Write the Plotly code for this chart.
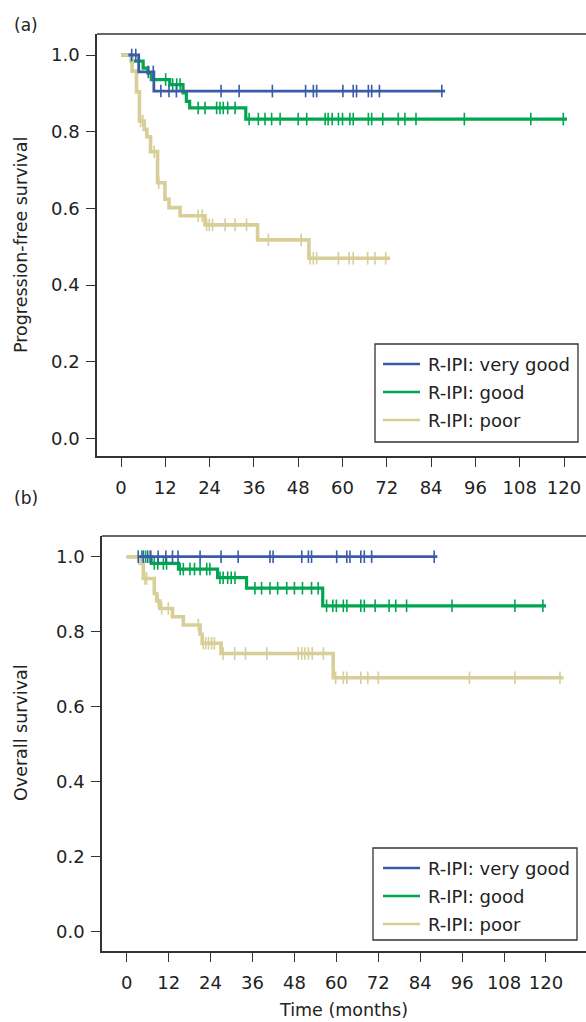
import numpy as np
import plotly.graph_objects as go

W, H = 586, 1022
BLUE = "#3A5BA8"
GREEN = "#00A650"
TAN = "#D8CE98"
AX = "#333333"
TXT = "#222222"
FONT = "DejaVu Sans"

x_ticks = [0, 12, 24, 36, 48, 60, 72, 84, 96, 108, 120]
y_ticks = [0.0, 0.2, 0.4, 0.6, 0.8, 1.0]
group_labels = ["R-IPI: very good", "R-IPI: good", "R-IPI: poor"]

# ---------------- Panel (a): progression-free survival ----------------
a_vg_start = 2.0
a_vg_times = [4.8, 8.9]
a_vg_surv = [0.956, 0.906]
a_vg_end = 87.8
a_vg_cens = [2.9, 4.0, 7.4, 8.75, 10.8, 13.0, 15.0, 27.1, 32.0, 41.0, 50.0, 52.1,
             53.0, 60.1, 62.9, 63.8, 67.0, 67.9, 70.0, 86.9]

a_g_start = 0.0
a_g_times = [2.8, 6.0, 7.3, 8.2, 13.2, 16.8, 17.7, 18.6, 33.8]
a_g_surv = [0.984, 0.966, 0.953, 0.936, 0.923, 0.901, 0.879, 0.862, 0.833]
a_g_end = 120.8
a_g_cens = [12.1, 14.0, 15.1, 16.0, 20.9, 22.75, 25.9, 26.8, 27.7, 28.9, 30.9,
            34.7, 37.2, 39.0, 40.8, 43.1, 48.0, 50.3, 55.3, 56.1, 57.2, 58.9, 60.0,
            62.0, 62.9, 67.0, 67.9, 70.9, 75.1, 76.9, 79.9, 93.0, 111.0, 119.8]

a_p_start = 0.0
a_p_times = [3.0, 4.2, 5.0, 6.3, 7.0, 8.0, 9.9, 11.9, 13.0, 16.0, 22.75, 37.0, 50.9]
a_p_surv = [0.958, 0.904, 0.828, 0.806, 0.787, 0.748, 0.667, 0.624, 0.602, 0.581,
            0.557, 0.518, 0.470]
a_p_end = 72.9
a_p_cens = [5.3, 5.9, 9.0, 10.2, 20.9, 22.0, 23.2, 23.9, 24.8, 28.2, 30.9, 34.0,
            39.9, 48.8, 51.2, 52.1, 53.0, 58.9, 61.8, 62.9, 66.8, 68.8, 71.7]

# ---------------- Panel (b): overall survival ----------------
b_vg_start = 3.3
b_vg_times = []
b_vg_surv = []
b_vg_end = 88.9
b_vg_cens = [3.3, 4.75, 6.0, 6.9, 9.0, 11.2, 13.1, 14.7, 21.0, 27.0, 31.9, 41.0,
             41.9, 50.1, 52.0, 52.9, 60.1, 63.0, 63.9, 67.0, 68.0, 70.1, 88.0]

b_g_start = 0.0
b_g_times = [7.0, 14.8, 26.0, 34.3, 56.1]
b_g_surv = [0.982, 0.967, 0.944, 0.916, 0.869]
b_g_end = 120.0
b_g_cens = [4.3, 5.4, 6.7, 7.9, 8.9, 10.5, 11.4, 15.3, 16.2, 18.1, 19.4, 21.0,
            22.9, 23.8, 26.7, 27.6, 28.9, 29.9, 31.0, 36.7, 38.6, 41.0, 43.2, 45.8,
            48.0, 50.3, 52.9, 54.8, 57.2, 59.0, 60.0, 62.0, 63.0, 67.0, 68.0, 71.1,
            75.1, 77.0, 80.1, 93.1, 111.1, 119.1]

b_p_start = 0.0
b_p_times = [3.8, 4.75, 7.9, 8.6, 9.5, 13.1, 16.2, 21.0, 21.6, 27.0, 59.1]
b_p_surv = [0.982, 0.942, 0.902, 0.882, 0.862, 0.840, 0.818, 0.793, 0.769, 0.742,
            0.677]
b_p_end = 125.0
b_p_cens = [5.2, 5.7, 9.0, 10.0, 11.9, 20.5, 21.9, 22.6, 23.4, 24.3, 25.1, 27.6,
            30.9, 34.0, 40.1, 49.1, 50.1, 51.0, 52.0, 53.1, 56.3, 59.8, 62.0, 63.0,
            67.0, 69.0, 72.0, 98.1, 111.1, 124.0]


def km_step(start, times, surv, end):
    x = [start] + list(times) + [end]
    y = [1.0] + list(surv) + [surv[-1] if surv else 1.0]
    return x, y


def km_at(times, surv, t_list):
    t_arr = np.asarray(times, dtype=float)
    s_arr = np.asarray([1.0] + list(surv), dtype=float)
    idx = np.searchsorted(t_arr, np.asarray(t_list, dtype=float), side="right")
    return s_arr[idx].tolist()


def px_x(p):
    return p / W


def px_y(p):
    return 1 - p / H


fig = go.Figure()

panels = [
    dict(xa="x", ya="y", curves=[
        (a_g_start, a_g_times, a_g_surv, a_g_end, a_g_cens, GREEN, 3.2),
        (a_p_start, a_p_times, a_p_surv, a_p_end, a_p_cens, TAN, 3.6),
        (a_vg_start, a_vg_times, a_vg_surv, a_vg_end, a_vg_cens, BLUE, 2.8),
    ]),
    dict(xa="x2", ya="y2", curves=[
        (b_g_start, b_g_times, b_g_surv, b_g_end, b_g_cens, GREEN, 3.2),
        (b_p_start, b_p_times, b_p_surv, b_p_end, b_p_cens, TAN, 3.6),
        (b_vg_start, b_vg_times, b_vg_surv, b_vg_end, b_vg_cens, BLUE, 2.8),
    ]),
]

for p in panels:
    for start, times, surv, end, cens, col, lw in p["curves"]:
        x, y = km_step(start, times, surv, end)
        fig.add_trace(go.Scatter(x=x, y=y, mode="lines", line=dict(color=col, width=lw, shape="hv"),
                                 xaxis=p["xa"], yaxis=p["ya"], showlegend=False, hoverinfo="skip"))
        fig.add_trace(go.Scatter(x=cens, y=km_at(times, surv, cens), mode="markers",
                                 marker=dict(symbol="line-ns", size=9, color=col,
                                             line=dict(color=col, width=1.6)),
                                 xaxis=p["xa"], yaxis=p["ya"], showlegend=False, hoverinfo="skip"))

# Geometry (pixels)
A_L, A_T, A_B = 97, 34, 456
B_L, B_T, B_B = 102, 536, 951

common_x = dict(tickmode="array", tickvals=x_ticks, ticks="outside", ticklen=9, tickwidth=1.4,
                tickcolor=AX, showline=True, linecolor=AX, linewidth=1.6, showgrid=False,
                zeroline=False, tickfont=dict(family=FONT, size=18, color=TXT),
                ticklabelstandoff=6)
common_y = dict(tickmode="array", tickvals=y_ticks, tickformat=".1f", ticks="outside", ticklen=9,
                tickwidth=1.4, tickcolor=AX, showline=True, linecolor=AX, linewidth=1.6,
                showgrid=False, zeroline=False, tickfont=dict(family=FONT, size=18, color=TXT),
                ticklabelstandoff=3)

fig.update_layout(
    width=W, height=H, margin=dict(l=0, r=0, t=0, b=0),
    paper_bgcolor="white", plot_bgcolor="white", showlegend=False,
    xaxis=dict(domain=[px_x(A_L), 1], range=[-6.5, 125.95], anchor="y", **common_x),
    yaxis=dict(domain=[px_y(A_B), px_y(A_T)], range=[-0.0456, 1.0548], anchor="x", **common_y),
    xaxis2=dict(domain=[px_x(B_L), 1], range=[-7.07, 131.45], anchor="y2", **common_x),
    yaxis2=dict(domain=[px_y(B_B), px_y(B_T)], range=[-0.0515, 1.0552], anchor="x2", **common_y),
)

shapes = []
annotations = []
# top borders of the plot boxes
for left, top in [(A_L, A_T), (B_L, B_T)]:
    shapes.append(dict(type="line", xref="paper", yref="paper", x0=px_x(left), x1=1,
                       y0=px_y(top), y1=px_y(top), line=dict(color=AX, width=1.6)))

# legends
for box, rows in [((375, 344, 578, 442), (364, 392, 420)),
                  ((373, 848, 577, 940), (868, 896, 924))]:
    x0, y0, x1, y1 = box
    shapes.append(dict(type="rect", xref="paper", yref="paper", x0=px_x(x0), x1=px_x(x1),
                       y0=px_y(y1), y1=px_y(y0), line=dict(color=AX, width=1.3),
                       fillcolor="white"))
    for label, col, ry in zip(group_labels, [BLUE, GREEN, TAN], rows):
        shapes.append(dict(type="line", xref="paper", yref="paper", x0=px_x(383), x1=px_x(420),
                           y0=px_y(ry), y1=px_y(ry), line=dict(color=col, width=2.6)))
        annotations.append(dict(xref="paper", yref="paper", x=px_x(426), y=px_y(ry),
                                xanchor="left", yanchor="middle", showarrow=False, text=label,
                                font=dict(family=FONT, size=18, color=TXT)))

# axis titles and panel labels
annotations += [
    dict(xref="paper", yref="paper", x=px_x(21), y=px_y(245), text="Progression-free survival",
         textangle=-90, showarrow=False, xanchor="center", yanchor="middle",
         font=dict(family=FONT, size=17.5, color=TXT)),
    dict(xref="paper", yref="paper", x=px_x(21), y=px_y(733), text="Overall survival",
         textangle=-90, showarrow=False, xanchor="center", yanchor="middle",
         font=dict(family=FONT, size=17.5, color=TXT)),
    dict(xref="paper", yref="paper", x=px_x(343), y=px_y(1010), text="Time (months)",
         showarrow=False, xanchor="center", yanchor="middle",
         font=dict(family=FONT, size=17.5, color=TXT)),
    dict(xref="paper", yref="paper", x=px_x(12), y=px_y(25), text="(a)",
         showarrow=False, xanchor="left", yanchor="middle",
         font=dict(family=FONT, size=17, color=TXT)),
    dict(xref="paper", yref="paper", x=px_x(12), y=px_y(498), text="(b)",
         showarrow=False, xanchor="left", yanchor="middle",
         font=dict(family=FONT, size=17, color=TXT)),
]

fig.update_layout(shapes=shapes, annotations=annotations)
fig.write_html("out.html", config={"displayModeBar": False},
               post_script="document.body.style.margin='0';document.body.style.overflow='hidden';")
